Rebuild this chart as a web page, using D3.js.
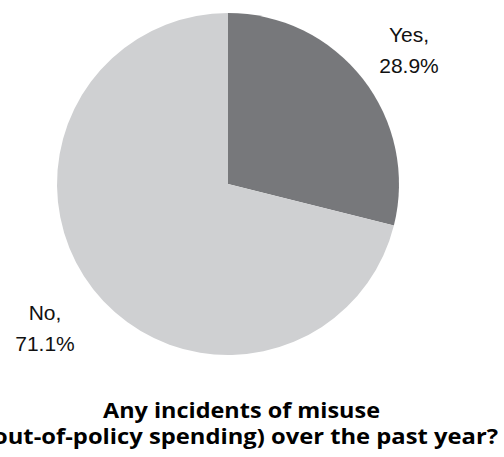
<!DOCTYPE html>
<meta charset="utf-8">
<style>
body { margin: 0; background: #fff; }
.lbl { font: 21px "Liberation Sans", Arial, sans-serif; fill: #111; }
.title { font: bold 21px "Open Sans", sans-serif; fill: #000; }
</style>
<body>
<svg width="504" height="457"></svg>
<script src="https://d3js.org/d3.v7.min.js"></script>
<script>
var categories = ["Yes", "No"];
var values = [28.9, 71.1];
var colors = ["#77787b", "#cfd0d2"];
var titleLines = ["Any incidents of misuse", "(out-of-policy spending) over the past year?"];

var svg = d3.select("svg"),
    cx = 228, cy = 184, r = 171;

var pie = d3.pie().sort(null).value(function(d) { return d; });
var arc = d3.arc().innerRadius(0).outerRadius(r);

var g = svg.append("g").attr("transform", "translate(" + cx + "," + cy + ")");

g.selectAll("path")
  .data(pie(values))
  .enter().append("path")
    .attr("d", arc)
    .attr("fill", function(d, i) { return colors[i]; });

// labels sit outside the slices
var labelPos = [[181, -142], [-183, 136]];
categories.forEach(function(c, i) {
  var t = g.append("text")
      .attr("class", "lbl")
      .attr("text-anchor", "middle")
      .attr("transform", "translate(" + labelPos[i][0] + "," + labelPos[i][1] + ")");
  t.append("tspan").attr("x", 0).attr("dy", 0).text(c + ",");
  t.append("tspan").attr("x", 0).attr("dy", 31).text(values[i].toFixed(1) + "%");
});

var widths = [277, 513];
titleLines.forEach(function(s, i) {
  svg.append("text")
      .attr("class", "title")
      .attr("x", 241.5)
      .attr("y", 418 + i * 26)
      .attr("text-anchor", "middle")
      .attr("textLength", widths[i])
      .attr("lengthAdjust", "spacingAndGlyphs")
      .text(s);
});
</script>
</body>
